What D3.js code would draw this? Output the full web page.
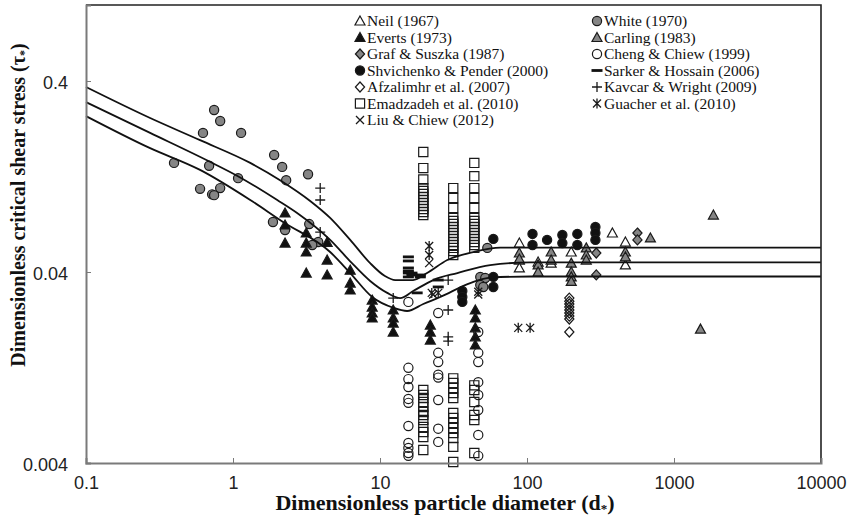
<!DOCTYPE html>
<html>
<head>
<meta charset="utf-8">
<script src="https://cdn.jsdelivr.net/npm/d3@7"></script>
<style>
  body { margin: 0; background: #fff; }
  svg { display: block; }
  .tick text { font-family: "Liberation Sans", Arial, sans-serif; font-size: 18px; fill: #222; }
  .legend text { font-family: "Liberation Serif", "Times New Roman", serif; font-size: 15.5px; fill: #111; }
  .axis-title { font-family: "Liberation Serif", "Times New Roman", serif; font-weight: bold; fill: #111; }
</style>
</head>
<body>
<svg id="chart" width="847" height="516"></svg>
<script>
// Data: [d*, tau*]
const neil = [[88.7,0.0567],[88.7,0.0462],[88.7,0.042],[119,0.0451],[146,0.0445],[200,0.0509],[381,0.064],[467,0.0574],[467,0.0436]];
const white = [[0.397,0.149],[0.597,0.109],[0.625,0.214],[0.688,0.144],[0.744,0.282],[0.818,0.247],[1.135,0.214],[1.083,0.124],
  [0.818,0.110],[0.721,0.102],[0.744,0.101],[1.905,0.164],[2.16,0.142],[2.30,0.121],[3.24,0.130],[1.87,0.0731],[2.26,0.0664],
  [3.30,0.0713],[3.80,0.0574],[3.46,0.0554],[53.7,0.0535],[48.1,0.0377],[52.0,0.0372],[48.1,0.0342],[50.4,0.0334]];
const everts = [[2.26,0.0815],[2.26,0.0705],[2.26,0.0567],[3.15,0.064],[3.15,0.0567],[3.15,0.0509],[3.15,0.0395],
  [4.37,0.0572],[4.37,0.0462],[4.37,0.0386],[6.27,0.0409],[6.27,0.035],[6.27,0.0322],[8.85,0.0285],[8.85,0.0262],
  [8.85,0.0244],[8.85,0.023],[12.3,0.0253],[12.3,0.023],[12.3,0.0216],[12.3,0.0194],[22,0.0211],[22,0.0194],[22,0.0176],
  [44.5,0.0253],[44.5,0.023],[44.5,0.0204],[44.5,0.0183],[44.5,0.0166]];
const carling = [[1854,0.0795],[1514,0.0201],[691,0.0603],[88.7,0.0503],[88.7,0.0468],[119,0.0436],[119,0.040],[146,0.0509],
  [146,0.0462],[200,0.0445],[200,0.040],[200,0.0377],[200,0.0357],[253,0.0535],[253,0.0491],[253,0.0462],[467,0.0509],[467,0.048]];
const graf = [[296,0.0503],[296,0.0386],[564,0.064],[564,0.0589]];
const cheng = [[15.6,0.0279],[15.6,0.0126],[15.6,0.0110],[15.6,0.0100],[15.6,0.00866],[15.6,0.00826],[15.6,0.00625],
  [15.6,0.00509],[15.6,0.0048],[15.6,0.00451],[15.6,0.00436],
  [24.9,0.0244],[24.9,0.0151],[24.9,0.0135],[24.9,0.0116],[24.9,0.0112],[24.9,0.00855],[24.9,0.00605],[24.9,0.00516],
  [46.6,0.0194],[46.6,0.0151],[46.6,0.0135],[46.6,0.0106],[46.6,0.00908],[46.6,0.00758],[46.6,0.00561],[46.6,0.00436]];
const shvichenko = [[59,0.0596],[59,0.0377],[59,0.0334],[36.3,0.0318],[36.3,0.0296],[36.3,0.0279],[109,0.0633],[109,0.0554],
  [137,0.0589],[174,0.0625],[174,0.0567],[220,0.0633],[220,0.0554],[292,0.0688],[292,0.064],[292,0.0589]];
const sarker = [[15.6,0.048],[15.6,0.0457],[15.6,0.042],[15.6,0.0405],[15.6,0.0395],[15.6,0.0377],[16.5,0.0395],[16.5,0.0386],
  [18.8,0.0386],[18.8,0.0377],[17.9,0.0311],[24.9,0.0363],[24.9,0.0334]];
const afzalimhr = [[194,0.0292],[194,0.0281],[194,0.0272],[194,0.0262],[194,0.0253],[194,0.0244],[194,0.0235],[194,0.0227],[194,0.0194]];
const kavcar = [[3.92,0.110],[3.92,0.0953],[3.92,0.0647],[12.3,0.0292],[29.1,0.0363],[29.1,0.0253],[29.1,0.0183],[29.1,0.0174]];
const emadzadeh = [
  [19.7,0.170],[19.7,0.140],[19.7,0.122],[19.7,0.110],[19.7,0.1062],[19.7,0.1024],[19.7,0.0988],[19.7,0.0953],[19.7,0.0919],
  [19.7,0.0887],[19.7,0.0855],[19.7,0.0825],[19.7,0.0795],
  [19.7,0.00964],[19.7,0.00908],[19.7,0.00876],[19.7,0.00834],[19.7,0.00786],[19.7,0.0074],[19.7,0.00714],[19.7,0.00672],
  [19.7,0.00617],[19.7,0.00581],[19.7,0.00547],[19.7,0.00468],
  [31.5,0.110],[31.5,0.0975],[31.5,0.0865],[31.5,0.0767],[31.5,0.074],[31.5,0.0713],[31.5,0.0688],[31.5,0.0664],[31.5,0.064],
  [31.5,0.0617],[31.5,0.0596],[31.5,0.0574],[31.5,0.0554],[31.5,0.0535],[31.5,0.0515],[31.5,0.0491],
  [31.5,0.0111],[31.5,0.0105],[31.5,0.00988],[31.5,0.00929],[31.5,0.00876],[31.5,0.00731],[31.5,0.00688],[31.5,0.00648],
  [31.5,0.0061],[31.5,0.00574],[31.5,0.00541],[31.5,0.00486],[31.5,0.00405],
  [43.8,0.149],[43.8,0.127],[43.8,0.110],[43.8,0.0975],[43.8,0.0865],[43.8,0.0767],[43.8,0.074],[43.8,0.0713],[43.8,0.0688],
  [43.8,0.0664],[43.8,0.064],[43.8,0.0617],[43.8,0.0596],[43.8,0.0574],[43.8,0.0554],[43.8,0.0535],
  [43.8,0.0102],[43.8,0.00964],[43.8,0.00834],[43.8,0.00714],[43.8,0.00672],[43.8,0.00451]];
const guacher = [[21.6,0.0547],[21.6,0.0491],[22.5,0.0311],[24.9,0.0311],[46.6,0.0315],[87.2,0.0204],[105,0.0204]];
const liu = [[21.6,0.0445],[23,0.0305],[46.6,0.0305]];

// the three curves
const upperCurve = [[0.1,0.372],[0.273,0.256],[0.597,0.196],[1.31,0.149],[2.09,0.121],[3.35,0.0942],[4.58,0.0768],[6.27,0.0589],
  [8.57,0.0445],[10.8,0.0381],[12.7,0.0363],[16.8,0.0363],[20.9,0.0395],[28.7,0.0462],[43.1,0.0509],[65.8,0.0537],[105,0.0537],[10000,0.0537]];
const middleCurve = [[0.1,0.310],[0.273,0.214],[0.698,0.151],[1.08,0.127],[2.0,0.0953],[2.73,0.0815],[4.58,0.0589],[6.27,0.0455],
  [8.57,0.0359],[11.2,0.0311],[13.7,0.0292],[16.8,0.0318],[23.0,0.0363],[33.6,0.0395],[56.2,0.0435],[105,0.0449],[10000,0.0449]];
const lowerCurve = [[0.1,0.262],[0.273,0.178],[0.597,0.137],[1.31,0.0953],[2.19,0.0731],[4.58,0.0509],[6.27,0.0395],[8.85,0.0296],
  [12.3,0.026],[15.3,0.025],[19.7,0.0272],[25.7,0.0296],[41.1,0.035],[56.2,0.0374],[105,0.0379],[10000,0.0379]];

const xTicks = [0.1, 1, 10, 100, 1000, 10000];
const yTicks = [0.004, 0.04, 0.4];

const grey = '#858585';
const series = [
  {name: 'White (1970)', data: white, shape: 'circle', fill: grey},
  {name: 'Neil (1967)', data: neil, shape: 'triangle', fill: '#fff'},
  {name: 'Everts (1973)', data: everts, shape: 'triangle', fill: '#111'},
  {name: 'Carling (1983)', data: carling, shape: 'triangle', fill: grey},
  {name: 'Graf & Suszka (1987)', data: graf, shape: 'diamond', fill: grey},
  {name: 'Cheng & Chiew (1999)', data: cheng, shape: 'circle', fill: 'none'},
  {name: 'Shvichenko & Pender (2000)', data: shvichenko, shape: 'circle', fill: '#111'},
  {name: 'Sarker & Hossain (2006)', data: sarker, shape: 'dash', fill: '#111'},
  {name: 'Afzalimhr et al. (2007)', data: afzalimhr, shape: 'diamond', fill: 'none'},
  {name: 'Kavcar & Wright (2009)', data: kavcar, shape: 'plus', fill: 'none'},
  {name: 'Emadzadeh et al. (2010)', data: emadzadeh, shape: 'square', fill: 'none'},
  {name: 'Guacher et al. (2010)', data: guacher, shape: 'star', fill: 'none'},
  {name: 'Liu & Chiew (2012)', data: liu, shape: 'times', fill: 'none'}
];
const legendLeft = ['Neil (1967)', 'Everts (1973)', 'Graf & Suszka (1987)', 'Shvichenko & Pender (2000)',
  'Afzalimhr et al. (2007)', 'Emadzadeh et al. (2010)', 'Liu & Chiew (2012)'];
const legendRight = ['White (1970)', 'Carling (1983)', 'Cheng & Chiew (1999)', 'Sarker & Hossain (2006)',
  'Kavcar & Wright (2009)', 'Guacher et al. (2010)'];

const shapes = {
  circle: 'M4.6,0A4.6,4.6 0 1,1 -4.6,0A4.6,4.6 0 1,1 4.6,0Z',
  triangle: 'M0,-5L5,4L-5,4Z',
  diamond: 'M0,-5L4.6,0L0,5L-4.6,0Z',
  square: 'M-4.6,-4.6H4.6V4.6H-4.6Z',
  dash: 'M-5.5,-1.4H5.5V1.4H-5.5Z',
  plus: 'M-5,0H5M0,-5V5',
  times: 'M-4,-4L4,4M4,-4L-4,4',
  star: 'M-4,-4L4,4M4,-4L-4,4M0,-5V5'
};

const svg = d3.select('#chart');
const plotLeft = 86, plotRight = 821, plotTop = 5, plotBottom = 463;

const x = d3.scaleLog().domain([0.1, 10000]).range([plotLeft, plotRight]);
const y = d3.scaleLog().domain([0.004, 1]).range([plotBottom, plotTop]);

function addMarker(sel, s) {
  const lineOnly = s.shape === 'plus' || s.shape === 'times' || s.shape === 'star';
  sel.append('path')
    .attr('d', shapes[s.shape])
    .attr('fill', lineOnly ? 'none' : s.fill)
    .attr('stroke', s.shape === 'dash' ? 'none' : '#1a1a1a')
    .attr('stroke-width', lineOnly ? 1.3 : 1.2);
}

// markers
series.forEach(s => {
  svg.append('g').selectAll('g')
    .data(s.data)
    .enter()
    .append('g')
    .attr('transform', d => `translate(${x(d[0])},${y(d[1])})`)
    .each(function () { addMarker(d3.select(this), s); });
});

// curves
const line = d3.line()
  .x(d => x(d[0]))
  .y(d => y(d[1]))
  .curve(d3.curveMonotoneX);

[upperCurve, middleCurve, lowerCurve].forEach(c => {
  svg.append('path')
    .attr('d', line(c))
    .attr('fill', 'none')
    .attr('stroke', '#111')
    .attr('stroke-width', 1.8);
});

// frame
svg.append('path')
  .attr('d', `M${plotLeft},${plotTop}H${plotRight}V${plotBottom}`)
  .attr('fill', 'none')
  .attr('stroke', '#222')
  .attr('stroke-width', 1.6);

// axes
const xAxis = d3.axisBottom(x).tickValues(xTicks).tickFormat(d => String(d)).tickSize(-5).tickPadding(13);
const yAxis = d3.axisLeft(y).tickValues(yTicks).tickFormat(d => String(d)).tickSize(-5).tickPadding(18);

const xg = svg.append('g').attr('transform', `translate(0,${plotBottom})`).call(xAxis);
const yg = svg.append('g').attr('transform', `translate(${plotLeft},0)`).call(yAxis);
[xg, yg].forEach(g => {
  g.select('.domain').attr('stroke', '#7a7a7a').attr('stroke-width', 2);
  g.selectAll('.tick line').attr('stroke', '#7a7a7a');
});
yg.selectAll('.tick text').attr('dy', '0.42em');

// axis titles
const xt = svg.append('text')
  .attr('class', 'axis-title')
  .attr('font-size', '22px')
  .attr('x', 445)
  .attr('y', 510)
  .attr('text-anchor', 'middle')
  .text('Dimensionless particle diameter (d');
xt.append('tspan').attr('font-size', '13px').attr('dy', 3).text('*');
xt.append('tspan').attr('dy', -3).text(')');

const yt = svg.append('text')
  .attr('class', 'axis-title')
  .attr('font-size', '20px')
  .attr('transform', 'translate(25,205) rotate(-90)')
  .attr('text-anchor', 'middle')
  .text('Dimensionless critical shear stress (τ');
yt.append('tspan').attr('font-size', '12px').attr('dy', 3).text('*');
yt.append('tspan').attr('dy', -3).text(')');

// legend
const legend = svg.append('g').attr('class', 'legend');
const rowY = i => 21 + i * 16.5;
function legendColumn(names, mx, tx) {
  names.forEach((n, i) => {
    const s = series.find(d => d.name === n);
    const g = legend.append('g').attr('transform', `translate(${mx},${rowY(i)})`);
    addMarker(g, s);
    legend.append('text')
      .attr('x', tx)
      .attr('y', rowY(i))
      .attr('dy', '0.35em')
      .text(n);
  });
}
legendColumn(legendLeft, 360, 367);
legendColumn(legendRight, 597, 604);
</script>
</body>
</html>
